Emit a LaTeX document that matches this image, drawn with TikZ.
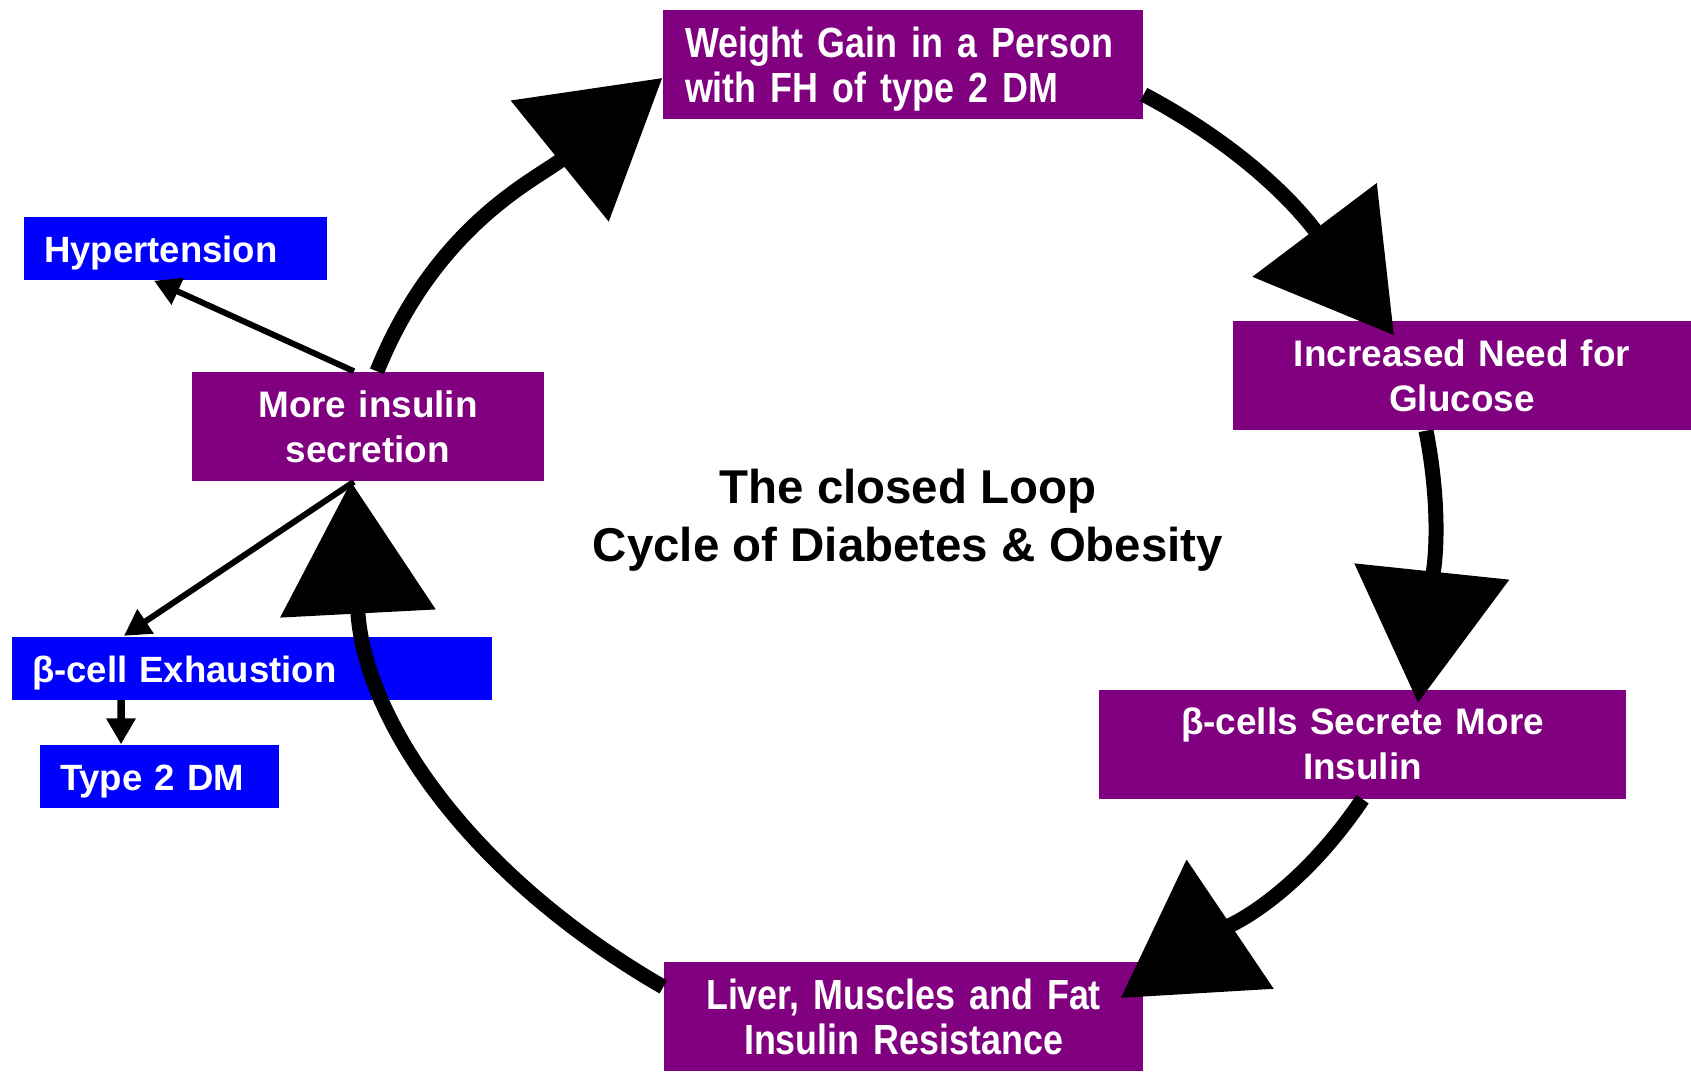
\documentclass[tikz,border=0pt]{standalone}
\usepackage{fontspec}
\setmainfont{Liberation Sans}
\newfontfamily\narrowfont[FakeStretch=0.85]{Liberation Sans}
\usetikzlibrary{arrows.meta}
\definecolor{boxpurple}{HTML}{800080}
\definecolor{boxblue}{HTML}{0000FF}

\begin{document}
\begin{tikzpicture}[
    procbox/.style={fill=boxpurple, text=white, font=\bfseries\fontsize{10.5}{12.8}\selectfont,
        inner xsep=0.2cm, inner ysep=0pt, minimum height=1.09cm, align=center},
    sidebox/.style={fill=boxblue, text=white, font=\bfseries\fontsize{10.4}{12.5}\selectfont,
        inner xsep=0.2cm, inner ysep=0pt, minimum height=0.63cm, align=left},
    cycarrow/.style={line width=0.15cm, -{Triangle[length=1.32cm,width=1.52cm]}},
    sidearrow/.style={line width=0.06cm, -{Triangle[length=0.26cm,width=0.28cm]}}
]
    \useasboundingbox (0,0) rectangle (16.91,-10.74);

    % Cycle boxes
    \node[procbox, align=left, text width=4.36cm, inner xsep=0.22cm,
        font=\narrowfont\bfseries\fontsize{12}{12.8}\selectfont] (wg) at (9.03,-0.645)
        {\raisebox{-0.45mm}[\height][\depth]{\parbox{4.36cm}{Weight Gain in a Person\\with FH of type 2 DM}}};
    \node[procbox, text width=4.18cm] (need) at (14.62,-3.755) {Increased Need for\\Glucose};
    \node[procbox, text width=4.87cm] (beta) at (13.625,-7.44) {β-cells Secrete More\\Insulin};
    \node[procbox, text width=4.39cm,
        font=\narrowfont\bfseries\fontsize{12}{12.8}\selectfont] (liver) at (9.035,-10.165)
        {Liver, Muscles and Fat\\Insulin Resistance};
    \node[procbox, text width=3.12cm] (more) at (3.68,-4.265) {More insulin\\secretion};

    % Side effects
    \node[sidebox, text width=2.63cm] (hyp) at (1.755,-2.485) {\raisebox{-0.5mm}[\height][\depth]{Hypertension}};
    \node[sidebox, text width=4.40cm] (exh) at (2.52,-6.68) {\raisebox{-0.5mm}[\height][\depth]{β-cell Exhaustion}};
    \node[sidebox, text width=1.99cm] (dm) at (1.595,-7.765) {\raisebox{-0.5mm}[\height][\depth]{Type 2 DM}};

    % Title
    \node[font=\bfseries\fontsize{13.5}{16.4}\selectfont, align=center] (title) at (9.08,-5.2)
        {The closed Loop\\Cycle of Diabetes \& Obesity};

    % Loop
    \draw[cycarrow] ([xshift=0.09cm]more.north) to[out=68,in=219] ([yshift=-0.135cm]wg.west);
    \draw[cycarrow] ([yshift=-0.3cm]wg.east) to[out=-28,in=127] ([xshift=-0.68cm,yshift=-0.15cm]need.north);
    \draw[cycarrow] ([xshift=-0.36cm]need.south) to[out=-79,in=84] ([xshift=0.555cm,yshift=-0.14cm]beta.north);
    \draw[cycarrow] (beta.south) to[out=-124,in=34] ([xshift=-0.23cm,yshift=0.185cm]liver.east);
    \draw[cycarrow] ([yshift=0.295cm]liver.west) to[out=150,in=273] ([xshift=-0.17cm]more.south);

    % Side arrows
    \draw[sidearrow] ([xshift=-0.14cm]more.north) -- ([xshift=-0.215cm]hyp.south);
    \draw[sidearrow] ([xshift=-0.14cm]more.south) -- ([xshift=-1.28cm]exh.north);
    \draw[sidearrow, line width=0.075cm] ([xshift=-1.31cm]exh.south) -- ([xshift=-0.385cm]dm.north);
\end{tikzpicture}
\end{document}
